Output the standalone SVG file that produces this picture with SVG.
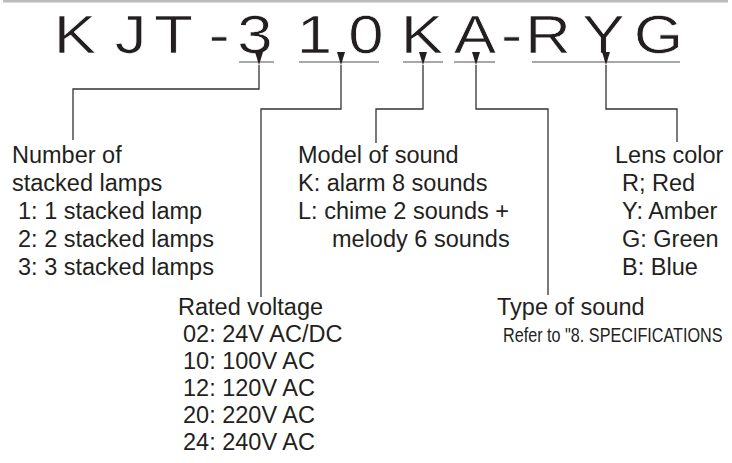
<svg xmlns="http://www.w3.org/2000/svg" width="732" height="463" viewBox="0 0 732 463">
<style>
.t{font-family:"Liberation Sans",Arial,sans-serif;font-size:23.5px;fill:#231f20}
.ttl{font-family:"Liberation Sans",Arial,sans-serif;font-size:53px;fill:#231f20;text-anchor:middle;stroke:#fff;stroke-width:0.7}
.ul{stroke:#8a8a8a;stroke-width:1.6;fill:none}
.cn{stroke:#333;stroke-width:1.3;fill:none;marker-start:url(#ah)}
</style>
<defs>
<marker id="ah" markerUnits="userSpaceOnUse" markerWidth="14" markerHeight="10" viewBox="0 0 14 10" refX="0" refY="5" orient="auto-start-reverse">
<path d="M0,5 L13,1 L13,9 Z" fill="#231f20"/>
</marker>
</defs>
<rect x="3" y="0" width="725" height="2.5" fill="#bcbcbc"/>
<g id="title">
<g transform="scale(1.2,1)">
<text class="ttl" x="62.5" y="53">K</text>
<text class="ttl" x="108.8" y="53">J</text>
<text class="ttl" x="144.6" y="53">T</text>
<text class="ttl" x="182.5" y="53">-</text>
<text class="ttl" x="212.5" y="53">3</text>
<text class="ttl" x="262.1" y="53">1</text>
<text class="ttl" x="305" y="53">0</text>
<text class="ttl" x="351.7" y="53">K</text>
<text class="ttl" x="395.8" y="53">A</text>
<text class="ttl" x="426.3" y="53">-</text>
<text class="ttl" x="456.7" y="53">R</text>
<text class="ttl" x="502.9" y="53">Y</text>
<text class="ttl" x="548.8" y="53">G</text>
</g>
<path class="ul" d="M239,62H274M299,62H379M403,62H443M454,62H495M532,62H680"/>
</g>
<g id="connectors">
<path class="cn" d="M259,65V89H73V140"/>
<path class="cn" d="M341,65V109H261V297"/>
<path class="cn" d="M423,65V109H376V143"/>
<path class="cn" d="M476,65V109H548V295"/>
<path class="cn" d="M606,65V109H677V142"/>
</g>
<g id="lamps">
<text class="t" x="12" y="163">Number of</text>
<text class="t" x="12" y="191">stacked lamps</text>
<text class="t" x="18" y="219">1: 1 stacked lamp</text>
<text class="t" x="18" y="247">2: 2 stacked lamps</text>
<text class="t" x="18" y="275">3: 3 stacked lamps</text>
</g>
<g id="model">
<text class="t" x="298" y="163">Model of sound</text>
<text class="t" x="298" y="191">K: alarm 8 sounds</text>
<text class="t" x="298" y="219">L: chime 2 sounds +</text>
<text class="t" x="332" y="247">melody 6 sounds</text>
</g>
<g id="lens">
<text class="t" x="615" y="163">Lens color</text>
<text class="t" x="622" y="191">R; Red</text>
<text class="t" x="622" y="219">Y: Amber</text>
<text class="t" x="622" y="247">G: Green</text>
<text class="t" x="622" y="275">B: Blue</text>
</g>
<g id="voltage">
<text class="t" x="178" y="315">Rated voltage</text>
<text class="t" x="183" y="342">02: 24V AC/DC</text>
<text class="t" x="183" y="369">10: 100V AC</text>
<text class="t" x="183" y="396">12: 120V AC</text>
<text class="t" x="183" y="423">20: 220V AC</text>
<text class="t" x="183" y="450">24: 240V AC</text>
</g>
<g id="type">
<text class="t" x="497" y="315">Type of sound</text>
<text class="t" transform="translate(503,342) scale(0.79,1)" x="0" y="0" style="font-size:20.5px">Refer to "8. SPECIFICATIONS</text>
</g>
</svg>
